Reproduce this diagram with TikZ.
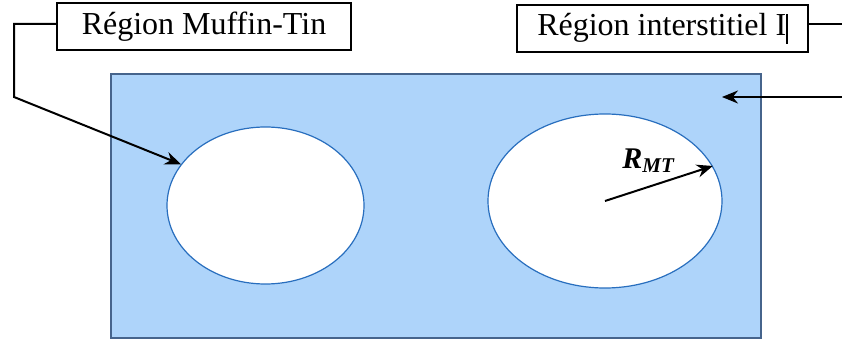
\documentclass[tikz,border=0pt]{standalone}
\usepackage{fontspec}
\setmainfont{Liberation Serif}
\usetikzlibrary{arrows.meta}
\usetikzlibrary{shapes.geometric}

\definecolor{zoneblue}{RGB}{174,212,250}
\definecolor{zoneedge}{RGB}{70,100,140}
\definecolor{sphereedge}{RGB}{40,110,190}

\tikzset{
  labelbox/.style={draw, line width=1pt, fill=white, minimum height=23.5pt, inner sep=0pt, font=\fontsize{16}{19}\selectfont},
  pointer/.style={line width=1pt, -{Stealth[length=8pt,width=6.5pt]}},
  sphere/.style={ellipse, draw=sphereedge, line width=0.6pt, fill=white, inner sep=0pt}
}

\begin{document}
\begin{tikzpicture}[x=0.5pt, y=-0.5pt]
  \useasboundingbox (0,0) rectangle (842,342);
  \draw[fill=zoneblue, draw=zoneedge, line width=1pt] (111,74) rectangle (761,338);

  \node[sphere, minimum width=98.5pt, minimum height=78.5pt] (c1) at (265.5,205.5) {};
  \node[sphere, minimum width=117pt, minimum height=87pt] (c2) at (605,201) {};

  \node[labelbox, minimum width=147pt] (mt) at (204,26.5) {Région Muffin-Tin};
  \node[labelbox, minimum width=145.5pt] (inter) at (662.5,28.5) {Région interstitiel I\rule[-4pt]{0.8pt}{15pt}};

  \coordinate (bend1) at (14,24);
  \coordinate (bend2) at (14,97);
  \draw[pointer] (mt.west |- bend1) -- (bend1) -- (bend2) -- (c1.154);

  \coordinate (edge1) at (842,24);
  \coordinate (edge2) at (842,97);
  \coordinate (zone) at (722,97);
  \draw[line width=1pt] (inter.east |- edge1) -- (edge1);
  \draw[pointer] (edge2) -- (zone);

  \draw[pointer] (c2.center) -- (c2.18);
  \node[font=\fontsize{15}{18}\selectfont] (rmt) at (649,161) {\textbf{\textit{R}}\textsubscript{\textbf{\textit{MT}}}};
\end{tikzpicture}
\end{document}
